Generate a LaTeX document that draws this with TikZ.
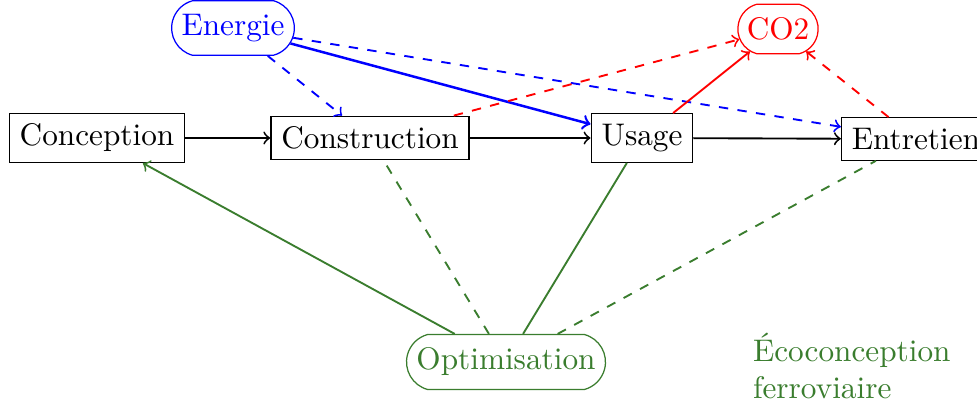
\documentclass[tikz,border=0pt]{standalone}
\usetikzlibrary{shapes.misc,arrows}

\definecolor{ecogreen}{RGB}{58,125,46}

\begin{document}
\begin{tikzpicture}[x=0.32pt,y=-0.32pt,every node/.style={align=center},phase/.style={shape=rectangle,draw,fill=white},source/.style={shape=rounded rectangle,rounded rectangle arc length=150,inner xsep=2pt,inner ysep=4.3pt,draw,fill=white}]

\useasboundingbox (0,0) rectangle (977,403);

\node [phase] (concep) at (97,138) {Conception};
\node [phase] (constr) at (370,138) {Construction};
\node [phase] (usage) at (642,138) {Usage};
\node [phase] (entret) at (916,139) {Entretien};
\node [source, draw=blue, text=blue] (energie) at (233,28) {Energie};
\node [source, draw=red, text=red] (co) at (778,29) {CO2};
\node [source, draw=ecogreen, text=ecogreen] (optim) at (506,362) {Optimisation};
\node [text=ecogreen, align=left, anchor=west] (eco) at (742,366) {\'Ecoconception\\ferroviaire};

\path[draw=black,semithick,->] (concep) edge (constr);
\path[draw=black,semithick,->] (constr) edge (usage);
\path[draw=black,semithick,->] (usage) edge (entret);
\path[draw=blue,semithick,dashed,->] (energie) edge (constr);
\path[draw=blue,thick,->] (energie) edge (usage);
\path[draw=blue,semithick,dashed,->] (energie) edge (entret);
\path[draw=red,semithick,dashed,->] (constr) edge (co);
\path[draw=red,semithick,->] (usage) edge (co);
\path[draw=red,semithick,dashed,->] (entret) edge (co);
\path[draw=ecogreen,semithick,->] (optim) edge (concep);
\path[draw=ecogreen,semithick,dashed] (optim) edge (constr);
\path[draw=ecogreen,semithick] (optim) edge (usage);
\path[draw=ecogreen,semithick,dashed] (optim) edge (entret);

\end{tikzpicture}
\end{document}
